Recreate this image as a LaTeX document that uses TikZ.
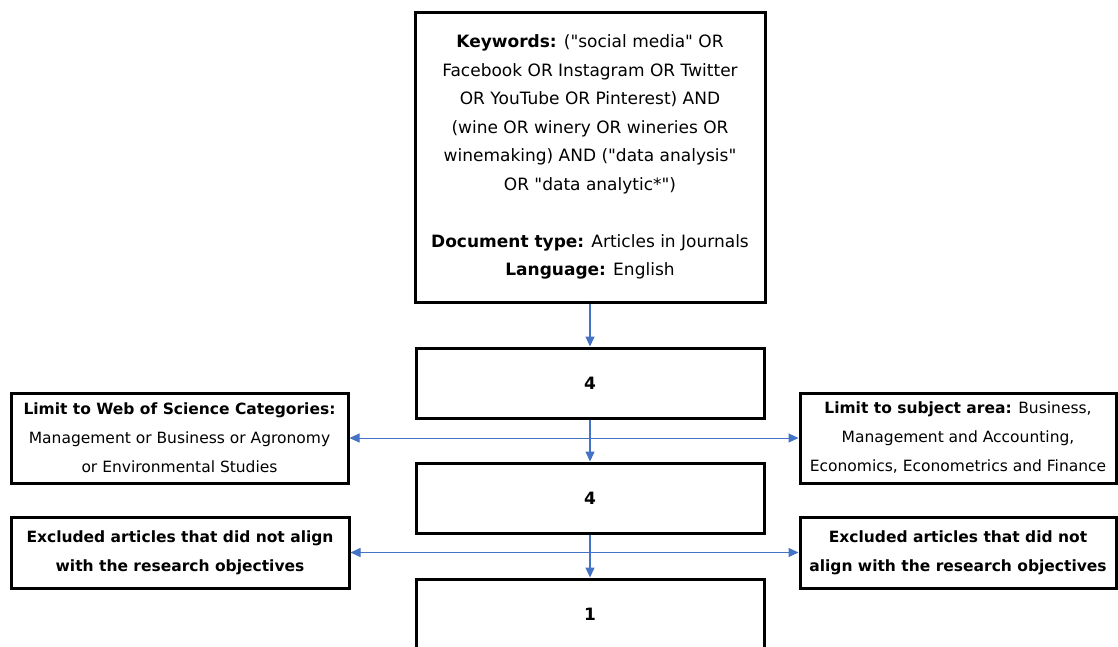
\documentclass[tikz,border=0pt]{standalone}
\usepackage{fontspec}
\setmainfont{DejaVu Sans}
\usetikzlibrary{arrows.meta}

\definecolor{c4472c4}{RGB}{68,114,196}

\newcommand{\qt}[1]{\textquotedbl#1\textquotedbl}

\tikzset{
  box/.style={draw=black, line width=3pt, align=center, inner sep=0pt},
  bigtext/.style={font=\fontsize{17}{28.5}\selectfont},
  sidetext/.style={font=\fontsize{15.5}{29}\selectfont},
  flow/.style={draw=c4472c4, line width=1.3pt,
    -{Triangle[length=10pt,width=9pt]}},
  twoway/.style={draw=c4472c4, line width=1pt,
    {Triangle[length=10pt,width=9pt]}-{Triangle[length=10pt,width=9pt]}},
}

\begin{document}
\begin{tikzpicture}[y=1pt, x=1pt, yscale=-1]
  \useasboundingbox (0,0) rectangle (1118,646);

  % search string
  \node[box, bigtext, minimum width=350pt, minimum height=290pt] (search)
    at (590,157) {\textbf{Keywords:} (\qt{social media} OR\\
    Facebook OR Instagram OR Twitter\\
    OR YouTube OR Pinterest) AND\\
    (wine OR winery OR wineries OR\\
    winemaking) AND (\qt{data analysis}\\
    OR \qt{data analytic*})\\[28.5pt]
    \textbf{Document type:} Articles in Journals\\
    \textbf{Language:} English};

  % counts
  \node[box, bigtext, minimum width=348pt, minimum height=70pt] (count1)
    at (590,383) {\textbf{4}};
  \node[box, bigtext, minimum width=348pt, minimum height=70pt] (count2)
    at (590,498) {\textbf{4}};
  \node[box, bigtext, minimum width=348pt, minimum height=70pt] (count3)
    at (590,614) {\textbf{1}};

  % filters
  \node[box, sidetext, minimum width=337pt, minimum height=90pt] (wos)
    at (179.5,438) {\textbf{Limit to Web of Science Categories:}\\
    Management or Business or Agronomy\\
    or Environmental Studies};
  \node[box, sidetext, minimum width=316pt, minimum height=90pt] (scopus)
    at (958,438) {\textbf{Limit to subject area:} Business,\\
    Management and Accounting,\\
    Economics, Econometrics and Finance};
  \node[box, sidetext, minimum width=338pt, minimum height=71pt] (exclwos)
    at (180,552.5) {\textbf{Excluded articles that did not align}\\
    \textbf{with the research objectives}};
  \node[box, sidetext, minimum width=316pt, minimum height=71pt] (exclscopus)
    at (958,552.5) {\textbf{Excluded articles that did not}\\
    \textbf{align with the research objectives}};

  % connectors
  \draw[twoway] (wos.east) -- (scopus.west);
  \draw[twoway] (exclwos.east) -- (exclscopus.west);
  \draw[flow] (search.south) -- (count1.north);
  \draw[flow] (count1.south) -- (count2.north);
  \draw[flow] (count2.south) -- (count3.north);
\end{tikzpicture}
\end{document}
